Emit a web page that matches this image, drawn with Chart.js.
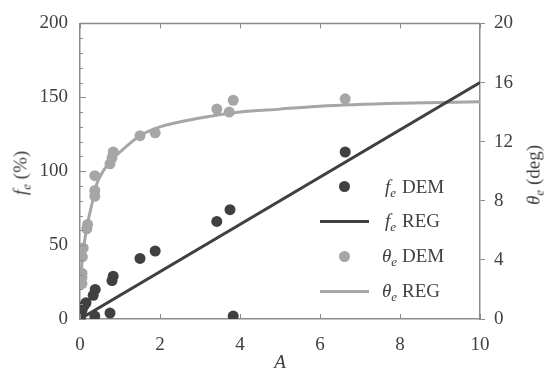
<!DOCTYPE html>
<html>
<head>
<meta charset="utf-8">
<title>fe and theta vs A</title>
<script src="https://cdn.jsdelivr.net/npm/chart.js@4.4.1/dist/chart.umd.min.js"></script>
<style>
  html, body { margin: 0; padding: 0; background: #ffffff; }
  #wrap {
    position: relative; width: 544px; height: 377px; overflow: hidden;
    font-family: 'Liberation Serif', serif; color: #404040;
  }
  #chart { position: absolute; left: 0; top: 0; }
  .lbl { position: absolute; font-size: 19px; line-height: 19px; white-space: nowrap; }
  .lbl i { font-style: italic; }
  .lbl sub { font-size: 13px; font-style: italic; vertical-align: -4px; line-height: 0; }
  .rot { transform: translate(-50%, -50%) rotate(-90deg); }
  .dot { position: absolute; width: 11px; height: 11px; border-radius: 50%; }
  .bar { position: absolute; width: 49px; height: 3px; }
</style>
</head>
<body>
<div id="wrap">
  <canvas id="chart" width="544" height="377"></canvas>

  <!-- axis titles -->
  <div class="lbl rot" style="left:20px; top:173px;"><i>f</i><sub>e</sub> (%)</div>
  <div class="lbl rot" style="left:533px; top:175px;"><i>θ</i><sub>e</sub> (deg)</div>
  <div class="lbl" style="left:280px; top:361px; transform: translate(-50%, -50%);"><i>A</i></div>

  <!-- legend -->
  <div class="dot" style="left:339px; top:181px; background:#404040;"></div>
  <div class="bar" style="left:320px; top:220px; background:#404040;"></div>
  <div class="dot" style="left:339px; top:251px; background:#a6a6a6;"></div>
  <div class="bar" style="left:320px; top:290px; background:#a6a6a6;"></div>

  <div class="lbl" style="left:385px; top:177px;"><i>f</i><sub>e</sub></div>
  <div class="lbl" style="left:402px; top:177px;">DEM</div>
  <div class="lbl" style="left:385px; top:211px;"><i>f</i><sub>e</sub></div>
  <div class="lbl" style="left:402px; top:211px;">REG</div>
  <div class="lbl" style="left:382px; top:246px;"><i>θ</i><sub>e</sub></div>
  <div class="lbl" style="left:402px; top:246px;">DEM</div>
  <div class="lbl" style="left:382px; top:281px;"><i>θ</i><sub>e</sub></div>
  <div class="lbl" style="left:402px; top:281px;">REG</div>
</div>
<script>
/* global Chart */

// f_e from the DEM runs (%)
const feDemA = [0.01, 0.03, 0.05, 0.1, 0.15, 0.37, 0.33, 0.38, 0.75, 0.8, 0.83, 1.5, 1.88, 3.42, 3.75, 3.83, 6.63];
const feDemVal = [1, 4, 6, 9, 11, 2, 16, 20, 4, 26, 29, 41, 46, 66, 74, 2, 113];

// f_e regression line (%)
const feRegA = [0, 10];
const feRegVal = [0, 160];

// theta_e from the DEM runs (deg)
const thDemA = [0.05, 0.05, 0.05, 0.06, 0.08, 0.17, 0.19, 0.37, 0.37, 0.37, 0.75, 0.8, 0.83, 1.5, 1.88, 3.42, 3.73, 3.83, 6.63];
const thDemVal = [2.4, 2.8, 3.1, 4.2, 4.8, 6.1, 6.4, 8.3, 8.7, 9.7, 10.5, 10.9, 11.3, 12.4, 12.6, 14.2, 14.0, 14.8, 14.9];

// theta_e regression curve (deg)
const thRegA = [0, 0.05, 0.1, 0.2, 0.3, 0.4, 0.6, 0.8, 1.0, 1.5, 2.0, 3.0, 4.0, 5.0, 6.0, 8.0, 10];
const thRegVal = [2.2, 3.8, 5.0, 6.6, 7.8, 9.0, 10.1, 10.8, 11.3, 12.4, 13.0, 13.6, 14.0, 14.2, 14.4, 14.6, 14.7];

// Axis ticks
const xTicks = [0, 2, 4, 6, 8, 10];
const feTicks = [0, 50, 100, 150, 200];
const thTicks = [0, 4, 8, 12, 16, 20];

const DARK = '#404040';
const LIGHT = '#a6a6a6';
const FRAME = '#8c8c8c';
const TEXT = '#404040';

const toPoints = (xs, ys) => xs.map((x, i) => ({ x: x, y: ys[i] }));

// Inward tick marks and the top border line
const frameTicks = {
    id: 'frameTicks',
    afterDraw(chart) {
        const { ctx, chartArea: area, scales } = chart;
        const { x, y } = scales;
        ctx.save();
        ctx.strokeStyle = FRAME;

        ctx.lineWidth = 1.5;
        ctx.beginPath();
        ctx.moveTo(area.left, area.top);
        ctx.lineTo(area.right, area.top);
        ctx.stroke();

        // x ticks, pointing in from bottom and top
        ctx.lineWidth = 1;
        xTicks.forEach(v => {
            const px = Math.round(x.getPixelForValue(v)) + 0.5;
            ctx.beginPath();
            ctx.moveTo(px, area.bottom);
            ctx.lineTo(px, area.bottom - 5);
            ctx.moveTo(px, area.top);
            ctx.lineTo(px, area.top + 5);
            ctx.stroke();
        });

        // left axis: major every 50, minor every 10
        for (let v = 0; v <= 200; v += 10) {
            const py = Math.round(y.getPixelForValue(v)) + 0.5;
            const len = v % 50 === 0 ? 6 : 3;
            ctx.beginPath();
            ctx.moveTo(area.left, py);
            ctx.lineTo(area.left + len, py);
            ctx.stroke();
        }
        ctx.restore();
    }
};

const tickFont = { family: "'Liberation Serif'", size: 19 };

function buildChart() {
    return new Chart(document.getElementById('chart'), {
        type: 'scatter',
        data: {
            datasets: [
                {
                    label: 'θe DEM',
                    data: toPoints(thDemA, thDemVal),
                    yAxisID: 'y1',
                    backgroundColor: LIGHT,
                    borderWidth: 0,
                    pointRadius: 5.5,
                    order: 3
                },
                {
                    label: 'θe REG',
                    data: toPoints(thRegA, thRegVal),
                    yAxisID: 'y1',
                    showLine: true,
                    borderColor: LIGHT,
                    borderWidth: 3,
                    pointRadius: 0,
                    cubicInterpolationMode: 'monotone',
                    order: 2
                },
                {
                    label: 'fe DEM',
                    data: toPoints(feDemA, feDemVal),
                    yAxisID: 'y',
                    backgroundColor: DARK,
                    borderWidth: 0,
                    pointRadius: 5.5,
                    order: 1
                },
                {
                    label: 'fe REG',
                    data: toPoints(feRegA, feRegVal),
                    yAxisID: 'y',
                    showLine: true,
                    borderColor: DARK,
                    borderWidth: 3,
                    pointRadius: 0,
                    order: 0
                }
            ]
        },
        options: {
            responsive: false,
            animation: false,
            layout: { padding: { top: 17, left: 0, right: 0, bottom: 0 } },
            plugins: {
                legend: { display: false },
                tooltip: { enabled: false }
            },
            scales: {
                x: {
                    type: 'linear',
                    min: 0,
                    max: 10,
                    afterFit: s => { s.height = 58; },
                    afterBuildTicks: s => { s.ticks = xTicks.map(v => ({ value: v })); },
                    grid: { display: false, drawTicks: false },
                    border: { display: true, color: FRAME, width: 1.5 },
                    ticks: { color: TEXT, font: tickFont, padding: 15, maxRotation: 0 }
                },
                y: {
                    position: 'left',
                    min: 0,
                    max: 200,
                    afterFit: s => { s.width = 80; },
                    afterBuildTicks: s => { s.ticks = feTicks.map(v => ({ value: v })); },
                    grid: { display: false, drawTicks: false },
                    border: { display: true, color: FRAME, width: 1.5 },
                    ticks: { color: TEXT, font: tickFont, padding: 12 }
                },
                y1: {
                    position: 'right',
                    min: 0,
                    max: 20,
                    afterFit: s => { s.width = 64; },
                    afterBuildTicks: s => { s.ticks = thTicks.map(v => ({ value: v })); },
                    grid: { display: true, drawOnChartArea: false, tickLength: 5, color: FRAME },
                    border: { display: true, color: FRAME, width: 1.5 },
                    ticks: { color: TEXT, font: tickFont, padding: 9 }
                }
            }
        },
        plugins: [frameTicks]
    });
}

// draw once the page text has been laid out, so the serif face is in use
document.fonts.ready.then(buildChart);
</script>
</body>
</html>
